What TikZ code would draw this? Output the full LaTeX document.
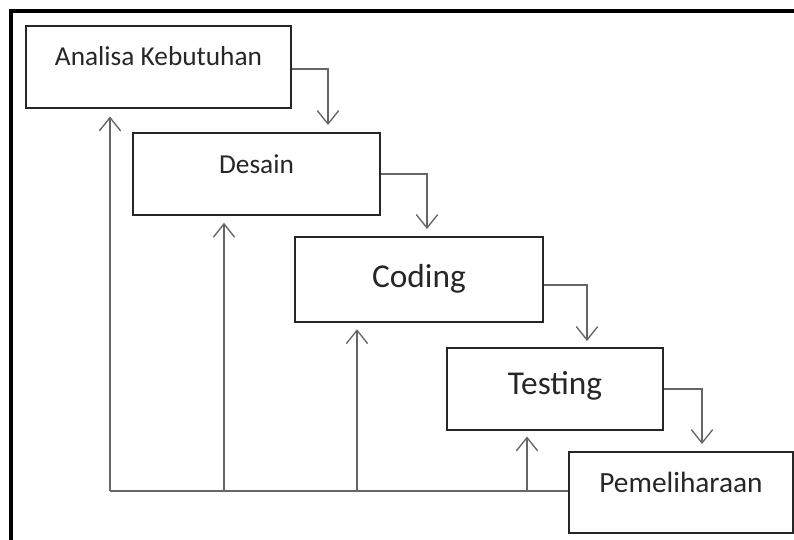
\documentclass[tikz,border=0pt]{standalone}
\usepackage{fontspec}
\setmainfont{Carlito}
\usetikzlibrary{arrows.meta}

\begin{document}
\begin{tikzpicture}[x=0.75pt, y=-0.75pt,
  >={Straight Barb[length=10pt,width=16pt]},
  box/.style={draw=black!85, line width=1.8pt, rectangle, align=center, inner sep=0pt, text=black!85},
  wire/.style={draw=black!60, line width=1pt}]
\useasboundingbox (0,0) rectangle (794,540);

% frame
\draw [line width=3pt] (11,540) -- (11,11) -- (794,11);

% phases
\node (ana) [box, minimum width=198.75pt, minimum height=61.5pt, text depth=16.5pt, font=\fontsize{20.5}{24}\selectfont] at (158.5,67) {Analisa Kebutuhan};
\node (des) [box, minimum width=185.25pt, minimum height=61.5pt, text depth=15pt, font=\fontsize{20.5}{24}\selectfont] at (256.5,174) {Desain};
\node (cod) [box, minimum width=186pt, minimum height=63.75pt, text depth=5.5pt, font=\fontsize{25}{30}\selectfont] at (419,279.5) {Coding};
\node (tes) [box, minimum width=162pt, minimum height=61.5pt, text depth=9.75pt, font=\fontsize{25}{30}\selectfont] at (555,389) {Testing};
\node (pem) [box, minimum width=168pt, minimum height=60.75pt, text depth=15pt, font=\fontsize{22}{26}\selectfont] at (681,492.5) {Pemeliharaan};

% downward flow
\coordinate (d1) at (328,133);
\coordinate (d2) at (427,237);
\coordinate (d3) at (587,349);
\coordinate (d4) at (702,452);
\draw [wire, ->, shorten >=6pt] ([yshift=-1.5pt]ana.east) -| (d1);
\draw [wire, ->, shorten >=6pt] (des.east) -| (d2);
\draw [wire, ->, shorten >=6pt] ([yshift=-4pt]cod.east) -| (d3);
\draw [wire, ->, shorten >=6pt] (tes.east) -| (d4);

% feedback
\coordinate (f1) at (110,491);
\coordinate (f2) at (224,491);
\coordinate (f3) at (357,491);
\coordinate (f4) at (527,491);
\draw [wire] (f1) -- (f1 -| pem.west);
\draw [wire, ->, shorten >=5.5pt] (f1) -- (f1 |- ana.south);
\draw [wire, ->, shorten >=5pt] (f2) -- (f2 |- des.south);
\draw [wire, ->, shorten >=4.5pt] (f3) -- (f3 |- cod.south);
\draw [wire, ->, shorten >=4pt] (f4) -- (f4 |- tes.south);
\end{tikzpicture}
\end{document}
